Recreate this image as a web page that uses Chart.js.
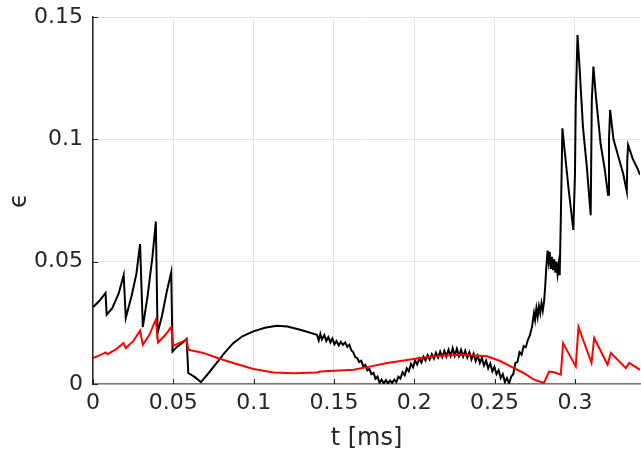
<!DOCTYPE html>
<html lang="en">
<head>
    <meta charset="UTF-8">
    <title>epsilon vs t</title>
    <script src="https://cdn.jsdelivr.net/npm/chart.js"></script>
    <style>
        html, body { margin: 0; padding: 0; background: #fff; }
        #wrap { width: 641px; height: 457px; }
    </style>
</head>
<body>
    <div id="wrap"><canvas id="epsChart"></canvas></div>

    <script>
        // tick positions
        const xTicks = [0, 0.05, 0.1, 0.15, 0.2, 0.25, 0.3];
        const yTicks = [0, 0.05, 0.1, 0.15];

        // black curve
        const blackT = [
            0.000, 0.004, 0.0078, 0.0085, 0.012, 0.016, 0.0191, 0.0204, 0.024, 0.027,
            0.0293, 0.031, 0.034, 0.037, 0.0391, 0.0402, 0.043, 0.046, 0.0487, 0.0495,
            0.052, 0.055, 0.0583, 0.0593, 0.063, 0.0672, 0.072, 0.077, 0.082, 0.0873,
            0.093, 0.0998, 0.107, 0.1144, 0.121, 0.129, 0.1394,
            0.1405, 0.1415, 0.1425, 0.1440, 0.1452, 0.1465, 0.1478, 0.1490, 0.1503, 0.1516,
            0.1530, 0.1543, 0.1556, 0.1570, 0.1583, 0.1596, 0.1608, 0.1620, 0.1632, 0.1645,
            0.1657, 0.1670, 0.1682, 0.1695, 0.1708, 0.1720, 0.1733, 0.1746, 0.1758, 0.1771,
            0.1784, 0.1797, 0.1810, 0.1823, 0.1836, 0.1849, 0.1862, 0.1875, 0.1888, 0.1901,
            0.1914, 0.1927, 0.1940, 0.1953, 0.1966, 0.1979, 0.1992, 0.2005, 0.2018, 0.2031,
            0.2044, 0.2057, 0.2070, 0.2083, 0.2096, 0.2109, 0.2122, 0.2135, 0.2148, 0.2161,
            0.2174, 0.2187, 0.2200, 0.2213, 0.2226, 0.2239, 0.2252, 0.2265, 0.2278, 0.2291,
            0.2304, 0.2317, 0.2330, 0.2343, 0.2356, 0.2369, 0.2382, 0.2395, 0.2408, 0.2421,
            0.2434, 0.2447, 0.2460, 0.2473, 0.2486, 0.2499, 0.2512, 0.2525, 0.2538, 0.2551,
            0.2564, 0.2577, 0.2590, 0.2603, 0.2616, 0.2629, 0.2642, 0.2655, 0.2668, 0.2681,
            0.2694, 0.2707, 0.2720, 0.2733, 0.2745, 0.2752, 0.2760, 0.2768, 0.2776, 0.2784,
            0.2792, 0.2800, 0.2808, 0.2815, 0.2822, 0.2830, 0.2836, 0.2843, 0.2850, 0.2857,
            0.2864, 0.2871, 0.2878, 0.2885, 0.2892, 0.2899, 0.2905,
            0.2912, 0.2922, 0.2935, 0.2960, 0.2990,
            0.3000, 0.3005, 0.3016, 0.3030, 0.3050, 0.3075, 0.3098, 0.3105, 0.3115, 0.3130,
            0.3160, 0.3185, 0.3206, 0.3212, 0.3219, 0.3240, 0.3270, 0.3300, 0.3323, 0.3326,
            0.3331, 0.3360, 0.3390, 0.3405
        ];
        const blackEps = [
            0.0314, 0.0340, 0.0372, 0.0283, 0.0310, 0.0370, 0.0446, 0.0270, 0.0360, 0.0450,
            0.0572, 0.0233, 0.0360, 0.0520, 0.0664, 0.0208, 0.0280, 0.0380, 0.0457, 0.0133,
            0.0150, 0.0165, 0.0184, 0.0045, 0.0030, 0.0008, 0.0045, 0.0086, 0.0128, 0.0167,
            0.0195, 0.0215, 0.0230, 0.0238, 0.0235, 0.0222, 0.0201,
            0.0178, 0.0205, 0.0182, 0.0200, 0.0176, 0.0192, 0.0170, 0.0186, 0.0162, 0.0176,
            0.0158, 0.0172, 0.0160, 0.0170, 0.0152, 0.0160, 0.0138, 0.0130, 0.0110, 0.0106,
            0.0090, 0.0095, 0.0072, 0.0078, 0.0056, 0.0062, 0.0040, 0.0046, 0.0022, 0.0030,
            0.0005, 0.0018, 0.0002, 0.0016, 0.0003, 0.0014, 0.0004, 0.0018, 0.0008, 0.0030,
            0.0022, 0.0048, 0.0036, 0.0064, 0.0052, 0.0082, 0.0068, 0.0096, 0.0080, 0.0104,
            0.0088, 0.0112, 0.0096, 0.0118, 0.0100, 0.0122, 0.0104, 0.0128, 0.0108, 0.0132,
            0.0110, 0.0136, 0.0112, 0.0140, 0.0114, 0.0146, 0.0116, 0.0144, 0.0114, 0.0140,
            0.0112, 0.0136, 0.0108, 0.0130, 0.0100, 0.0124, 0.0094, 0.0116, 0.0086, 0.0106,
            0.0076, 0.0096, 0.0064, 0.0084, 0.0052, 0.0070, 0.0040, 0.0056, 0.0024, 0.0040,
            0.0008, 0.0024, 0.0002, 0.0030, 0.0040, 0.0085, 0.0090, 0.0130, 0.0120, 0.0155,
            0.0150, 0.0180, 0.0200, 0.0235, 0.0290, 0.0262, 0.0310, 0.0275, 0.0318, 0.0290,
            0.0330, 0.0300, 0.0338, 0.0400, 0.0480, 0.0545, 0.0500, 0.0540, 0.0470, 0.0520,
            0.0465, 0.0510, 0.0455, 0.0500, 0.0450, 0.0490, 0.0445,
            0.0671, 0.1045, 0.0960, 0.0800, 0.0630,
            0.0850, 0.1140, 0.1426, 0.1280, 0.1050, 0.0880, 0.0690, 0.1160, 0.1297, 0.1180,
            0.0980, 0.0880, 0.0773, 0.1000, 0.1120, 0.1000, 0.0930, 0.0860, 0.0786, 0.0920,
            0.0977, 0.0920, 0.0880, 0.0855
        ];

        // red curve
        const redT = [
            0.000, 0.004, 0.0079, 0.009, 0.014, 0.019, 0.0204, 0.025, 0.0293, 0.031,
            0.035, 0.0391, 0.0405, 0.045, 0.0487, 0.0500, 0.054, 0.0583, 0.0593, 0.0686,
            0.078, 0.0873, 0.0998, 0.1123, 0.125, 0.1394, 0.1414, 0.1622, 0.173, 0.183,
            0.1935, 0.2038, 0.216, 0.2288, 0.2454, 0.2530, 0.2600, 0.2680, 0.2745, 0.2807,
            0.2839, 0.2870, 0.2912, 0.2926, 0.3005, 0.3022, 0.3103, 0.3120, 0.3203, 0.3224,
            0.3317, 0.3338, 0.3405
        ];
        const redEps = [
            0.0106, 0.0117, 0.0129, 0.0122, 0.0140, 0.0167, 0.0147, 0.0175, 0.0218, 0.0160,
            0.0200, 0.0263, 0.0170, 0.0200, 0.0233, 0.0156, 0.0168, 0.0181, 0.0140, 0.0127,
            0.0105, 0.0086, 0.0061, 0.0047, 0.0044, 0.0047, 0.0051, 0.0058, 0.0072, 0.0086,
            0.0096, 0.0106, 0.0115, 0.0120, 0.0113, 0.0095, 0.0072, 0.0045, 0.0018, 0.0004,
            0.0051, 0.0048, 0.0038, 0.0167, 0.0072, 0.0233, 0.0086, 0.0188, 0.0079, 0.0127,
            0.0065, 0.0086, 0.0058
        ];

        const toPoints = (xs, ys) => xs.map((x, i) => ({ x: x, y: ys[i] }));
        const fmt = v => String(+v.toFixed(2));
        const axisText = '#262626';

        // MATLAB style inward tick marks
        const innerTicks = {
            id: 'innerTicks',
            afterDatasetsDraw(chart) {
                const { ctx, chartArea, scales } = chart;
                ctx.save();
                ctx.strokeStyle = axisText;
                ctx.lineWidth = 1;
                ctx.beginPath();
                xTicks.forEach(v => {
                    const px = Math.round(scales.x.getPixelForValue(v)) + 0.5;
                    ctx.moveTo(px, chartArea.bottom);
                    ctx.lineTo(px, chartArea.bottom - 5);
                });
                yTicks.forEach(v => {
                    const py = Math.round(scales.y.getPixelForValue(v)) + 0.5;
                    ctx.moveTo(chartArea.left, py);
                    ctx.lineTo(chartArea.left + 5, py);
                });
                ctx.stroke();
                ctx.restore();
            }
        };

        new Chart(document.getElementById('epsChart'), {
            type: 'scatter',
            data: {
                datasets: [{
                    data: toPoints(redT, redEps),
                    showLine: true,
                    borderColor: '#ff0000',
                    borderWidth: 2,
                    pointRadius: 0,
                    tension: 0
                }, {
                    data: toPoints(blackT, blackEps),
                    showLine: true,
                    borderColor: '#000000',
                    borderWidth: 2,
                    pointRadius: 0,
                    tension: 0
                }]
            },
            options: {
                responsive: true,
                maintainAspectRatio: false,
                animation: false,
                layout: { padding: { top: 17, right: 1, left: 0, bottom: 0 } },
                plugins: { legend: { display: false }, tooltip: { enabled: false } },
                scales: {
                    x: {
                        type: 'linear',
                        min: 0,
                        max: 0.3405,
                        afterBuildTicks: s => { s.ticks = xTicks.map(v => ({ value: v })); },
                        afterFit: s => { s.height = 73; s.paddingLeft = 0; s.paddingRight = 0; },
                        ticks: {
                            callback: fmt,
                            color: axisText,
                            font: { family: 'DejaVu Sans', size: 22 },
                            padding: 6,
                            maxRotation: 0
                        },
                        grid: { color: '#e3e3e3', drawTicks: false },
                        border: { color: '#777777', width: 1.5 },
                        title: {
                            display: true,
                            text: 't [ms]',
                            color: axisText,
                            font: { family: 'DejaVu Sans', size: 24 },
                            padding: { top: 0, bottom: 4 }
                        }
                    },
                    y: {
                        type: 'linear',
                        min: 0,
                        max: 0.15,
                        afterBuildTicks: s => { s.ticks = yTicks.map(v => ({ value: v })); },
                        afterFit: s => { s.width = 93; s.paddingTop = 0; s.paddingBottom = 0; },
                        ticks: {
                            callback: fmt,
                            color: axisText,
                            font: { family: 'DejaVu Sans', size: 22 },
                            padding: 10
                        },
                        grid: { color: '#e3e3e3', drawTicks: false },
                        border: { color: axisText, width: 1.5 },
                        title: {
                            display: true,
                            text: 'ϵ',
                            color: axisText,
                            font: { family: 'DejaVu Sans', size: 24 },
                            padding: { top: 5, bottom: 0 }
                        }
                    }
                }
            },
            plugins: [innerTicks]
        });
    </script>
</body>
</html>
